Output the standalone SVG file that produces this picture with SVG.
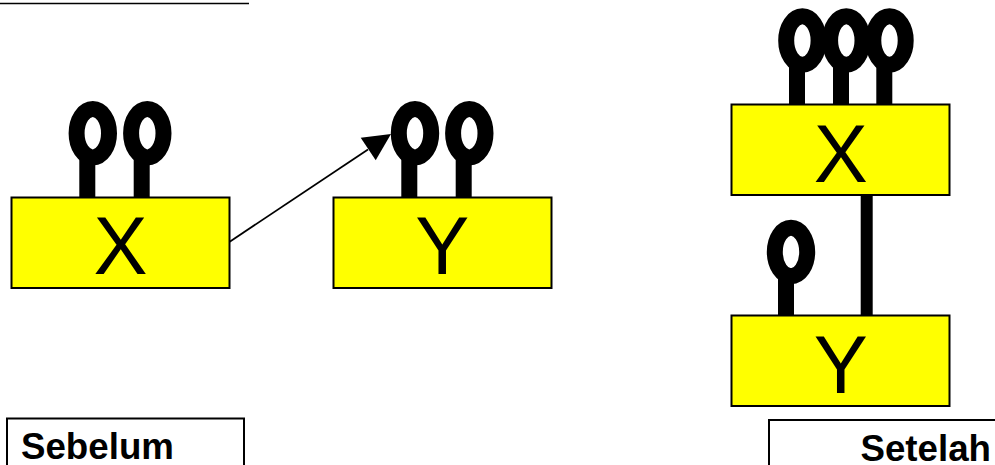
<svg xmlns="http://www.w3.org/2000/svg" width="995" height="465" viewBox="0 0 995 465">
<style>
.box{fill:#ff0;stroke:#000;stroke-width:2}
.loop{fill:none;stroke:#000;stroke-width:16}
.stem{fill:#000}
.big{font-family:"Liberation Sans",Arial,sans-serif;font-size:81px;text-anchor:middle;fill:#000}
.lab{font-family:"Liberation Sans",Arial,sans-serif;font-size:36.7px;font-weight:bold;fill:#000}
.frame{fill:none;stroke:#000;stroke-width:2}
</style>
<defs>
<g id="pin"><ellipse class="loop" cx="0" cy="0" rx="16.2" ry="24.2"/></g>
</defs>
<rect width="995" height="465" fill="#fff"/>
<g id="top-rule"><line x1="0" y1="3.5" x2="249" y2="3.5" stroke="#000" stroke-width="1.7"/></g>
<g id="node-x-before">
<rect class="stem" x="79.3" y="150" width="16" height="47"/><rect class="stem" x="133.7" y="150" width="16" height="47"/>
<use href="#pin" x="92.8" y="133.2"/><use href="#pin" x="147.3" y="133.2"/>
<rect class="box" x="11.5" y="197.5" width="218" height="90.5"/>
<text class="big" x="120.5" y="274.3">X</text>
</g>
<g id="node-y-before">
<rect class="stem" x="401.3" y="150" width="16" height="47"/><rect class="stem" x="455.7" y="150" width="16" height="47"/>
<use href="#pin" x="415" y="133.2"/><use href="#pin" x="469.3" y="133.2"/>
<rect class="box" x="333.5" y="197.5" width="218" height="90.5"/>
<text class="big" x="442.3" y="274.3">Y</text>
</g>
<g id="node-x-after">
<rect class="stem" x="789" y="57" width="16" height="47"/><rect class="stem" x="833" y="57" width="16" height="47"/><rect class="stem" x="876.3" y="57" width="16" height="47"/>
<use href="#pin" x="802.4" y="40.5"/><use href="#pin" x="846.3" y="40.5"/><use href="#pin" x="889.5" y="40.5"/>
<rect class="box" x="731.5" y="104.5" width="218" height="90.5"/>
<text class="big" x="840.7" y="181.7">X</text>
</g>
<g id="node-y-after">
<rect class="stem" x="778" y="268" width="16" height="47"/>
<use href="#pin" x="791" y="252"/>
<rect class="box" x="731.5" y="315.5" width="218" height="90.5"/>
<text class="big" x="840.7" y="392.7">Y</text>
</g>
<g id="label-before"><rect class="frame" x="7" y="418.5" width="237" height="60"/><text class="lab" x="21" y="459.3">Sebelum</text></g>
<g id="label-after"><rect class="frame" x="769" y="420" width="260" height="60"/><text class="lab" x="860.5" y="461">Setelah</text></g>
<g id="connectors">
<line x1="229.7" y1="241.7" x2="368" y2="149.5" stroke="#000" stroke-width="1.8"/>
<polygon points="391,134 360.7,137.7 375.7,160.3" fill="#000"/>
<rect x="860.7" y="195" width="12" height="120" fill="#000"/>
</g>
</svg>
